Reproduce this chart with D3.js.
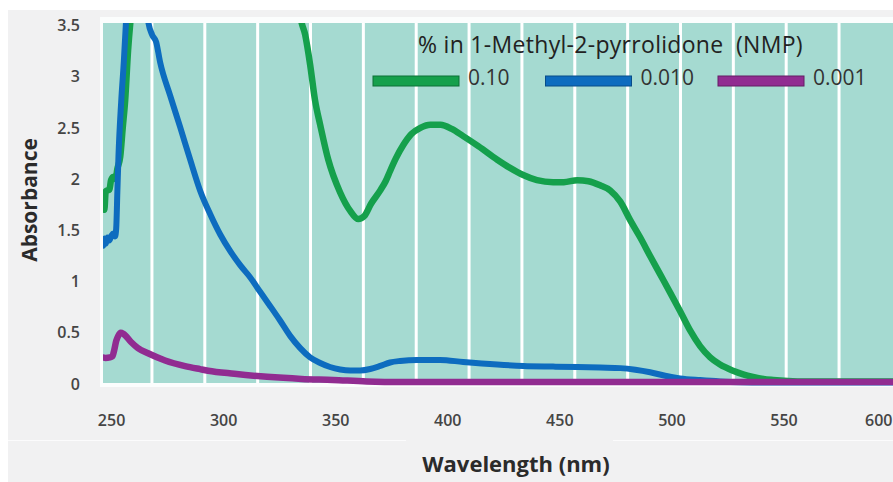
<!DOCTYPE html>
<html>
<head>
<meta charset="utf-8">
<script src="https://cdn.jsdelivr.net/npm/d3@7/dist/d3.min.js"></script>
<style>
  html, body { margin: 0; padding: 0; background: #ffffff; }
  svg { display: block; }
  text { font-family: "Open Sans", "Noto Sans", sans-serif; }
</style>
</head>
<body>
<svg id="chart" width="893" height="482"></svg>
<script>
// UV-Vis absorbance spectra of three concentrations in NMP
// Each series: [wavelength (nm), absorbance]
const green010 = [
  [246.0,1.72],[246.5,1.86],[247.0,1.70],[247.6,1.88],[248.4,1.89],[249.3,1.90],
  [250.0,1.99],[251.0,2.02],[252.0,2.00],[252.8,2.10],[254.1,2.22],[255.2,2.50],
  [256.3,2.77],[257.6,3.26],[258.9,3.60],[260.5,3.90],[333.0,3.90],[334.4,3.60],
  [336.6,3.41],[338.8,3.12],[341.0,2.77],[343.3,2.53],[346.9,2.19],[352.2,1.87],
  [356.7,1.69],[360.3,1.61],[363.0,1.64],[366.0,1.76],[370.1,1.89],[372.5,1.98],
  [374.5,2.08],[377.0,2.20],[380.3,2.33],[384.0,2.44],[388.0,2.50],[392.5,2.53],
  [397.0,2.53],[402.0,2.49],[407.1,2.42],[414.0,2.32],[422.3,2.19],[428.0,2.11],
  [433.9,2.04],[440.0,1.99],[447.2,1.97],[452.0,1.97],[458.0,1.99],[463.0,1.98],
  [468.2,1.94],[472.7,1.89],[477.2,1.78],[481.6,1.60],[486.1,1.43],[490.5,1.25],
  [495.0,1.07],[499.5,0.89],[503.9,0.71],[508.4,0.52],[512.8,0.37],[517.3,0.26],
  [521.7,0.19],[527.5,0.13],[532.0,0.095],[536.4,0.07],[541.0,0.05],[545.4,0.04],
  [552.0,0.03],[560.0,0.025],[599.0,0.025]
];
const blue010 = [
  [246.0,1.40],[246.5,1.35],[247.1,1.42],[247.7,1.37],[248.4,1.43],[249.2,1.40],
  [250.2,1.45],[251.0,1.47],[251.8,1.44],[252.3,1.52],[252.8,1.87],[253.3,2.22],
  [254.5,2.75],[255.7,3.15],[256.7,3.55],[258.0,3.90],[265.0,3.90],[266.5,3.55],
  [268.3,3.41],[270.1,3.34],[271.9,3.14],[276.3,2.82],[280.8,2.51],[285.3,2.19],
  [289.7,1.89],[294.2,1.66],[298.7,1.46],[303.1,1.30],[307.6,1.16],[312.1,1.04],
  [316.5,0.90],[321.0,0.76],[325.4,0.62],[329.9,0.47],[334.4,0.35],[338.8,0.26],
  [343.3,0.205],[347.7,0.166],[352.2,0.142],[356.7,0.132],[361.1,0.132],[365.6,0.146],
  [370.1,0.176],[374.5,0.21],[379.0,0.225],[386.6,0.235],[396.8,0.235],[407.1,0.215],
  [422.3,0.19],[433.9,0.176],[447.2,0.17],[458.0,0.166],[468.2,0.16],[477.2,0.155],
  [483.9,0.14],[490.5,0.115],[497.2,0.08],[503.9,0.055],[512.8,0.038],[521.7,0.025],
  [530.7,0.018],[545.0,0.015],[599.0,0.015]
];
const purple001 = [
  [246.0,0.26],[247.5,0.255],[249.5,0.26],[250.6,0.27],[251.4,0.33],[252.3,0.42],
  [253.2,0.47],[254.3,0.50],[255.5,0.49],[258.9,0.41],[262.0,0.35],[266.5,0.30],
  [274.1,0.23],[283.0,0.175],[289.7,0.145],[293.3,0.13],[305.0,0.10],[319.6,0.07],
  [335.0,0.05],[349.0,0.04],[364.0,0.025],[380.0,0.02],[599.0,0.02]
];

const seriesLabels = ["0.10", "0.010", "0.001"];
const seriesColors = ["#15a04c", "#0d6cbf", "#912c91"];
const seriesStrokes = ["#0c7036", "#084c88", "#651d65"];
const seriesData = [green010, blue010, purple001];

const xTicks = [250, 300, 350, 400, 450, 500, 550, 600];
const yTicks = [0, 0.5, 1, 1.5, 2, 2.5, 3, 3.5];
const legendTitle = "% in 1-Methyl-2-pyrrolidone  (NMP)";
const stripeCount = 15;

const svg = d3.select("#chart");
const W = 893, H = 482;

// Plot frame
const plot = { left: 103, right: 893, top: 23, bottom: 383 };

// Scales
const x = d3.scaleLinear().domain([246, 599]).range([102.1, 893.3]);
const y = d3.scaleLinear().domain([0, 3.5]).range([384, 25.5]);

// Page background
svg.append("rect").attr("width", W).attr("height", H).attr("fill", "#ffffff");
svg.append("rect").attr("x", 8).attr("y", 10).attr("width", W - 8).attr("height", H - 10)
  .attr("fill", "#f1f1f2");
svg.append("line").attr("x1", 8).attr("x2", 406).attr("y1", 440.5).attr("y2", 440.5)
  .attr("stroke", "#fbfbfc").attr("stroke-width", 1);
svg.append("line").attr("x1", 613).attr("x2", W).attr("y1", 440.5).attr("y2", 440.5)
  .attr("stroke", "#fbfbfc").attr("stroke-width", 1);

// Plot area frame and teal stripes
svg.append("rect").attr("x", 100).attr("y", 17).attr("width", W - 100).attr("height", 370)
  .attr("fill", "#fbfdfd");
svg.append("rect").attr("x", plot.left).attr("y", plot.top)
  .attr("width", plot.right - plot.left).attr("height", plot.bottom - plot.top)
  .attr("fill", "#a5dad1");

const stripes = d3.scaleBand().domain(d3.range(stripeCount))
  .range([100.6, 890.4]).paddingInner(0.057);
svg.append("g").selectAll("line")
  .data(d3.range(1, stripeCount))
  .join("line")
  .attr("x1", i => stripes(i) - stripes.step() * stripes.paddingInner() / 2)
  .attr("x2", i => stripes(i) - stripes.step() * stripes.paddingInner() / 2)
  .attr("y1", plot.top).attr("y2", plot.bottom)
  .attr("stroke", "#ffffff").attr("stroke-width", 3);

// Axes
const yAxis = d3.axisLeft(y).tickValues(yTicks).tickSize(0).tickPadding(22)
  .tickFormat(d3.format("~g"));
const gy = svg.append("g").attr("transform", "translate(102,0)").call(yAxis);
gy.select(".domain").remove();
gy.selectAll("text").attr("font-size", 16).attr("font-weight", 600).attr("fill", "#454545")
  .style("font-family", "'Open Sans', sans-serif");

const xAxis = d3.axisBottom(x).tickValues(xTicks).tickSize(0).tickPadding(31)
  .tickFormat(d3.format("d"));
const gx = svg.append("g").attr("transform", "translate(0,384)").call(xAxis);
gx.select(".domain").remove();
gx.selectAll("text").attr("font-size", 16).attr("font-weight", 600).attr("fill", "#454545")
  .style("font-family", "'Open Sans', sans-serif");
// The last tick sits on the right edge: keep its label inside the page
gx.selectAll(".tick text").filter(d => d === xTicks[xTicks.length - 1])
  .attr("text-anchor", "end")
  .attr("x", W - 1 - x(xTicks[xTicks.length - 1]));

// Axis titles
svg.append("text").attr("x", 516).attr("y", 472).attr("text-anchor", "middle")
  .attr("font-size", 22).attr("font-weight", 700).attr("fill", "#2b2b2b")
  .text("Wavelength (nm)");
svg.append("text").attr("transform", "translate(37,200) rotate(-90)")
  .attr("text-anchor", "middle").attr("font-size", 21).attr("font-weight", 700)
  .attr("fill", "#2b2b2b").text("Absorbance");

// Curves
svg.append("clipPath").attr("id", "plotClip").append("rect")
  .attr("x", plot.left).attr("y", plot.top)
  .attr("width", plot.right - plot.left).attr("height", 387 - plot.top);

const line = d3.line().x(d => x(d[0])).y(d => y(d[1])).curve(d3.curveMonotoneX);
const widths = [6.5, 6, 6.5];
svg.append("g").attr("clip-path", "url(#plotClip)")
  .selectAll("path").data(seriesData).join("path")
  .attr("d", line).attr("fill", "none")
  .attr("stroke", (d, i) => seriesColors[i])
  .attr("stroke-width", (d, i) => widths[i])
  .attr("stroke-linejoin", "round");

// Legend
const legend = svg.append("g");
legend.append("text").attr("x", 418).attr("y", 53)
  .attr("font-size", 23).attr("letter-spacing", 0.3).attr("fill", "#222222")
  .style("white-space", "pre").text(legendTitle);
const item = legend.selectAll("g.item").data(seriesLabels).join("g")
  .attr("class", "item")
  .attr("transform", (d, i) => `translate(${373 + i * 172.5},0)`);
item.append("rect").attr("x", 0).attr("y", 76).attr("width", 86).attr("height", 10)
  .attr("fill", (d, i) => seriesColors[i])
  .attr("stroke", (d, i) => seriesStrokes[i]).attr("stroke-width", 1);
item.append("text").attr("x", 95).attr("y", 85).attr("font-size", 21)
  .attr("fill", "#333333").text(d => d);
</script>
</body>
</html>
